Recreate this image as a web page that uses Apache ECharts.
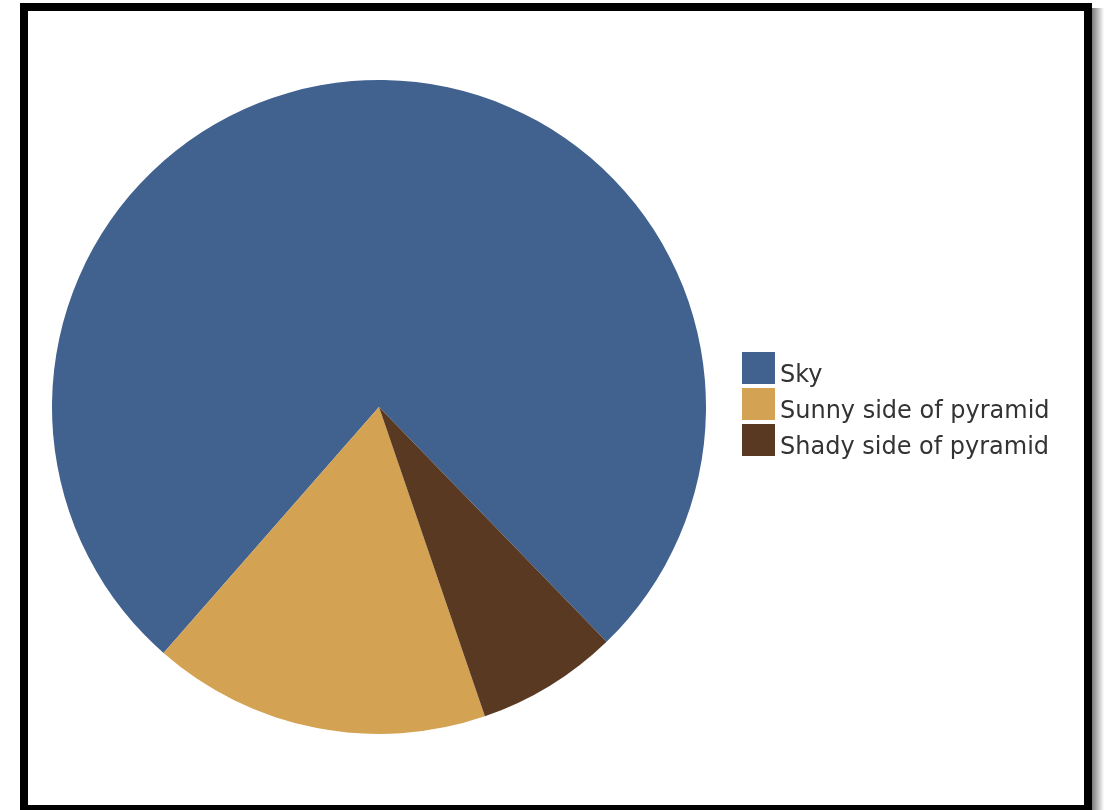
<!DOCTYPE html>
<html>
<head>
<meta charset="utf-8">
<script src="https://cdn.jsdelivr.net/npm/echarts@6/dist/echarts.min.js"></script>
<style>
html,body{margin:0;padding:0;background:#fff;}
#chart{width:1104px;height:810px;}
</style>
</head>
<body>
<div id="chart"></div>
<script>
var categories = ['Sky', 'Sunny side of pyramid', 'Shady side of pyramid'];
var values = [76.3, 16.7, 7.0];
var colors = ['#41628f', '#d3a353', '#5a3922'];

var chart = echarts.init(document.getElementById('chart'), null, {renderer: 'canvas'});
var data = categories.map(function (c, i) {
  return {name: c, value: values[i], itemStyle: {color: colors[i]}};
});
chart.setOption({
  animation: false,
  backgroundColor: '#ffffff',
  legend: {
    orient: 'vertical',
    left: 742,
    top: 352,
    padding: 0,
    icon: 'rect',
    itemWidth: 33,
    itemHeight: 32,
    itemGap: 0,
    selectedMode: false,
    data: categories,
    formatter: '{t|{name}}',
    textStyle: {
      fontFamily: 'DejaVu Sans',
      fontSize: 24,
      color: '#333333',
      rich: {
        t: {
          fontFamily: 'DejaVu Sans',
          fontSize: 24,
          color: '#333333',
          padding: [16, 0, 0, 0]
        }
      }
    }
  },
  graphic: [
    {
      type: 'rect',
      shape: {x: 1092, y: 8, width: 12, height: 802},
      style: {
        fill: new echarts.graphic.LinearGradient(0, 0, 1, 0, [
          {offset: 0, color: '#7a7a7a'},
          {offset: 1, color: '#ffffff'}
        ])
      },
      silent: true
    },
    {
      type: 'rect',
      shape: {x: 24, y: 7, width: 1064, height: 802},
      style: {fill: 'none', stroke: '#000000', lineWidth: 8},
      silent: true
    }
  ],
  series: [{
    type: 'pie',
    center: [379, 407],
    radius: [0, 327],
    startAngle: -45.9,
    clockwise: false,
    label: {show: false},
    labelLine: {show: false},
    emphasis: {disabled: true},
    itemStyle: {borderWidth: 0},
    data: data
  }]
});
</script>
</body>
</html>
